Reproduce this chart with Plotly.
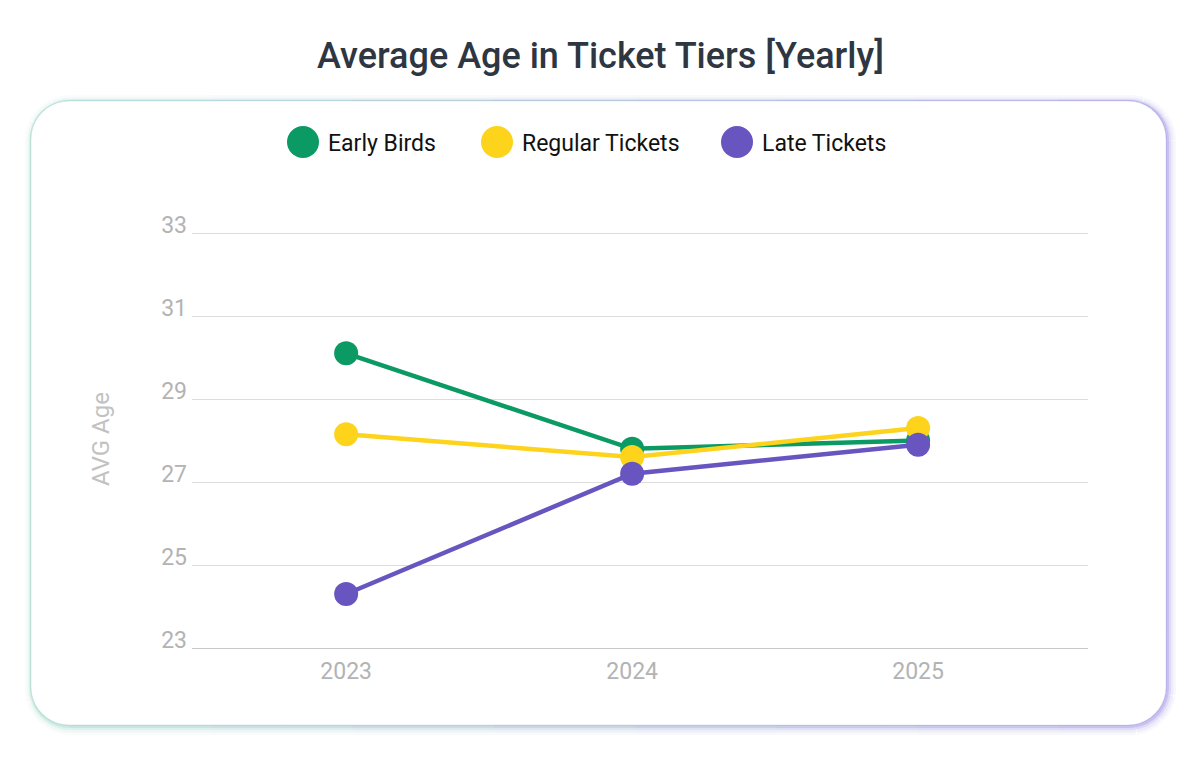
import math
import plotly.graph_objects as go

# data
years = ["2023", "2024", "2025"]
series_names = ["Early Birds", "Regular Tickets", "Late Tickets"]
early_birds = [30.1, 27.8, 28.0]
regular_tickets = [28.15, 27.6, 28.3]
late_tickets = [24.3, 27.2, 27.9]
y_ticks = [23, 25, 27, 29, 31, 33]

colors = ["#0b9a63", "#fdd31b", "#6855c0"]

# page has an 8px body margin, so the figure is a bit smaller than the window
OFF = 8
W, H = 1201 - 2 * OFF, 771 - 2 * OFF
L, R, T, B = 184, 105, 222, 115
PW, PH = W - L - R, H - T - B
PX_PER_UNIT = 41.5
y_top = 23 + PH / PX_PER_UNIT


def px(x):
    # page pixel -> paper coordinate
    return (x - OFF - L) / PW


def py(y):
    return (H - B - (y - OFF)) / PH


def rounded_rect(x0, y0, x1, y1, r, n=10):
    pts = []
    corners = [(x1 - r, y0 + r, -90, 0), (x1 - r, y1 - r, 0, 90),
               (x0 + r, y1 - r, 90, 180), (x0 + r, y0 + r, 180, 270)]
    edges = [((x0 + r, y0), (x1 - r, y0)), ((x1, y0 + r), (x1, y1 - r)),
             ((x1 - r, y1), (x0 + r, y1)), ((x0, y1 - r), (x0, y0 + r))]
    for (a, b), (cx, cy, s, e) in zip(edges, corners):
        steps = 30
        for i in range(steps):
            t = i / steps
            pts.append((a[0] + (b[0] - a[0]) * t, a[1] + (b[1] - a[1]) * t))
        for i in range(n + 1):
            ang = math.radians(s + (e - s) * i / n)
            pts.append((cx + r * math.cos(ang), cy + r * math.sin(ang)))
    pts.append(pts[0])
    return pts


def mix(c1, c2, t):
    a = [int(c1[i:i + 2], 16) for i in (1, 3, 5)]
    b = [int(c2[i:i + 2], 16) for i in (1, 3, 5)]
    return "rgb(%d,%d,%d)" % tuple(round(a[k] + (b[k] - a[k]) * t) for k in range(3))


def to_path(pts, dx=0, dy=0):
    return "M " + " L ".join("%.5f,%.5f" % (px(x + dx), py(y + dy)) for x, y in pts)


shapes = []
cx0, cy0, cx1, cy1 = 31, 101, 1166, 725
card = rounded_rect(cx0, cy0, cx1, cy1, 38)
chunk = 4
# soft shadow (slightly down-right) + thin gradient border (mint -> lavender)
glow_layers = [(16, 0.07, 2), (11, 0.12, 2), (7, 0.22, 1.5), (4, 0.4, 1), (1.5, 0.9, 0)]
for width, op, d in glow_layers:
    for i in range(0, len(card) - 1, chunk):
        seg = card[i:i + chunk + 1]
        mx = sum(p[0] for p in seg) / len(seg)
        t = (mx - cx0) / (cx1 - cx0)
        shapes.append(dict(type="path", xref="paper", yref="paper", path=to_path(seg, d, d),
                           line=dict(color=mix("#a9e0cc", "#a99ce8", t), width=width),
                           opacity=op, layer="below"))
shapes.append(dict(type="path", xref="paper", yref="paper", path=to_path(card) + " Z",
                   fillcolor="white", line=dict(color=mix("#cdeee2", "#cbc3f1", 0.5), width=0.5),
                   layer="below"))

# custom legend (plotly caps legend marker size)
annotations = []
legend_x = [303, 497, 737]
for name, c, lx in zip(series_names, colors, legend_x):
    shapes.append(dict(type="circle", xref="paper", yref="paper",
                       x0=px(lx - 16), x1=px(lx + 16), y0=py(158), y1=py(126),
                       fillcolor=c, line=dict(width=0)))
    annotations.append(dict(text=name, x=px(lx + 23), y=py(143), xref="paper", yref="paper",
                            xanchor="left", yanchor="middle", showarrow=False,
                            font=dict(family="Roboto", size=23, color="#111111")))

fig = go.Figure()
for name, vals, c in zip(series_names, [early_birds, regular_tickets, late_tickets], colors):
    fig.add_trace(go.Scatter(x=years, y=vals, name=name, mode="lines+markers",
                             line=dict(color=c, width=4.5),
                             marker=dict(size=24, color=c), showlegend=False))

fig.update_layout(
    width=W, height=H,
    margin=dict(l=L, r=R, t=T, b=B),
    paper_bgcolor="white", plot_bgcolor="rgba(0,0,0,0)",
    title=dict(text="Average Age in Ticket Tiers [Yearly]", x=0.5, xanchor="center",
               y=1 - (55 - OFF) / H, yanchor="middle",
               font=dict(family="Roboto", size=36, color="#2e3642", weight=500)),
    shapes=shapes, annotations=annotations,
    font=dict(family="Roboto"),
)
fig.update_xaxes(type="category", range=[-0.539, 2.594], showgrid=False,
                 showline=True, linecolor="#c9c9c9", linewidth=1,
                 ticks="", ticklabelstandoff=2,
                 tickfont=dict(family="Roboto", size=23, color="#b3b3b3"))
fig.update_yaxes(range=[23, y_top], tickvals=y_ticks, showgrid=True, gridcolor="#dcdcdc",
                 gridwidth=1, zeroline=False, ticks="", ticklabelshift=-8, ticklabelstandoff=4,
                 tickfont=dict(family="Roboto", size=23, color="#b3b3b3"),
                 title=dict(text="AVG Age", standoff=44,
                            font=dict(family="Roboto", size=24, color="#c2c2c2")))

fig.write_html("out.html")
